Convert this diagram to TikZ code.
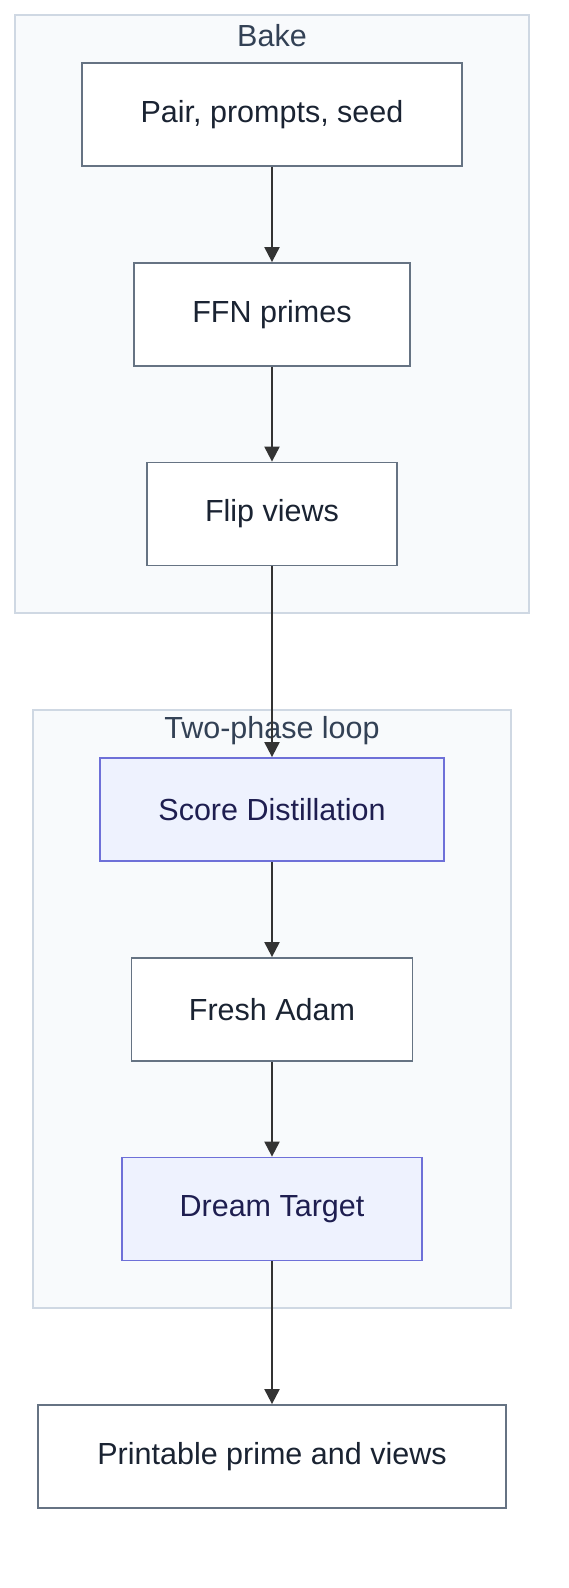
\documentclass[tikz,border=0pt]{standalone}
\usepackage{fontspec}
\setmainfont{Liberation Sans}
\usetikzlibrary{arrows.meta}
\definecolor{clusterfill}{HTML}{F8FAFC}
\definecolor{clusterline}{HTML}{CFD8E3}
\definecolor{clustertext}{HTML}{334155}
\definecolor{nodeline}{HTML}{667383}
\definecolor{nodetext}{HTML}{1A2332}
\definecolor{bluefill}{HTML}{EEF2FE}
\definecolor{blueline}{HTML}{6E70D8}
\definecolor{bluetext}{HTML}{1E1E50}
\definecolor{arrowcol}{HTML}{333333}
\begin{document}
\begin{tikzpicture}[x=1pt,y=-1pt,
  box/.style={draw=nodeline,fill=white,line width=1.8pt,minimum height=103pt,
    inner sep=0pt,text=nodetext,font=\fontsize{30.5}{36}\selectfont},
  bluebox/.style={box,draw=blueline,fill=bluefill,text=bluetext},
  cluster/.style={draw=clusterline,fill=clusterfill,line width=1.6pt},
  title/.style={text=clustertext,font=\fontsize{30.5}{36}\selectfont,inner sep=0pt},
  flow/.style={draw=arrowcol,line width=2.1pt,-{Triangle[length=15pt,width=15pt]}}]
\useasboundingbox (0,0) rectangle (568,1588);
\fill[white] (0,0) rectangle (568,1588);
% clusters
\draw[cluster] (15,15) rectangle (529,613);
\node[title] (baketitle) at (272,36) {Bake};
\draw[cluster] (33,710) rectangle (511,1308);
\node[title] (looptitle) at (272,731) {Two-phase loop};
% steps
\node[box,minimum width=380pt] (pair) at (272,114.5) {Pair, prompts, seed};
\node[box,minimum width=276pt] (ffn) at (272,314.5) {FFN primes};
\node[box,minimum width=250pt] (flip) at (272,514) {Flip views};
\node[bluebox,minimum width=344pt] (score) at (272,809.5) {Score Distillation};
\node[box,minimum width=281pt] (adam) at (272,1009.5) {Fresh Adam};
\node[bluebox,minimum width=300pt] (dream) at (272,1209) {Dream Target};
\node[box,minimum width=468pt] (print) at (272,1456.5) {Printable prime and views};
% arrows
\draw[flow] (pair) -- (ffn);
\draw[flow] (ffn) -- (flip);
\draw[flow] (flip) -- (score);
\draw[flow] (score) -- (adam);
\draw[flow] (adam) -- (dream);
\draw[flow] (dream) -- (print);
\end{tikzpicture}
\end{document}
